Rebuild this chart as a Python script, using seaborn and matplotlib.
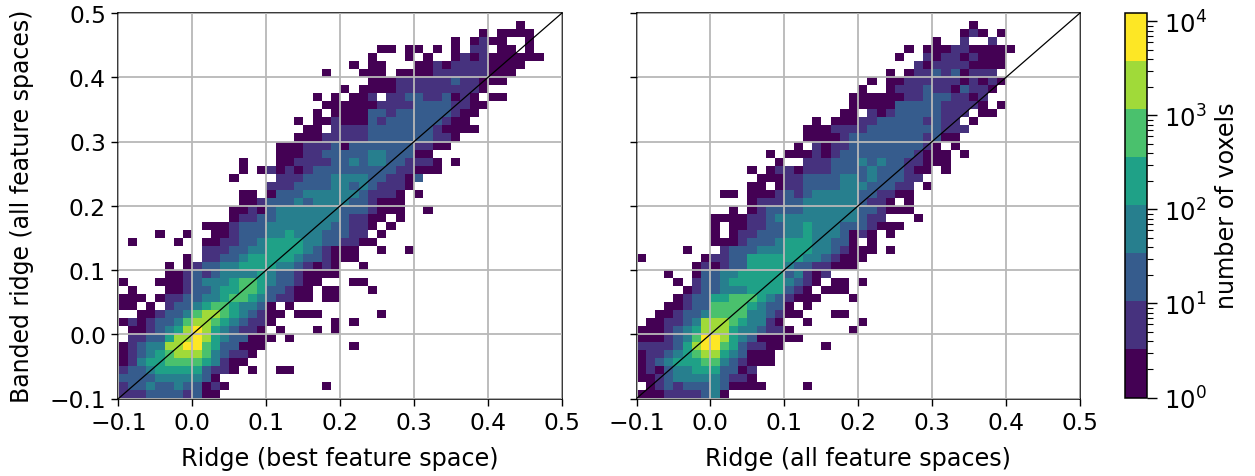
import numpy as np
import pandas as pd
import matplotlib
matplotlib.use("Agg")
import matplotlib.pyplot as plt
from matplotlib.colors import LogNorm
from matplotlib.cm import ScalarMappable
import seaborn as sns

# Colour band read per histogram bin, top row first, 8 bins per group. "." = empty
left_rows = [
    "........ ........ ........ ........ ........ ........",
    "........ ........ ........ ........ ........ ...1....",
    "........ ........ ........ ........ .......1 .1111...",
    "........ ........ ........ ........ ....1.12 11..1...",
    "........ ........ ........ ....11.1 1.1.1.22 .11.1...",
    "........ ........ ........ ...1...1 .1..1212 111111..",
    "........ ........ ........ .1.11... 11212222 1111....",
    "........ ........ ......1. ..111.11 11222222 111.....",
    "........ ........ ........ ...11122 22223221 11......",
    "........ ........ ........ 1.111122 22222221 ........",
    "........ ........ .....1.1 .112.223 3223121. 11......",
    "........ ........ ......11 11112222 33332211 ........",
    "........ ........ .....1.1 11133233 3333211. ........",
    "........ ........ ...1.112 11132333 333211.. ........",
    "........ ........ ....11.2 22233333 3321111. ........",
    "........ ........ ...11122 22233333 33221... ........",
    "........ ........ .1112223 13333333 2211.... ........",
    "........ ........ .1112233 33344333 11...... ........",
    "........ .....1.. .1122223 34344332 221.1... ........",
    "........ .....1.1 21212333 33333322 111..... ........",
    "........ ....1... .2223334 44433221 3....... ........",
    "........ ........ 22233334 43432221 ........ ........",
    "........ .....11. 13334444 4432221. 1....... ........",
    "........ .....112 33343444 4332111. ........ ........",
    "........ ....1121 34444444 3332111. .1...... ........",
    "........ ....1223 34444444 32211.1. ........ ........",
    "........ .1112333 44444443 3221.1.. ........ ........",
    "....1..1 ..112333 44544433 322.1... ........ ........",
    ".1....1. .1122334 55554433 2211.... ........ ........",
    "........ .2223344 55554321 11..1..1 ........ ........",
    ".......1 .2233455 55543321 11...... ........ ........",
    ".....1.1 23344555 54432121 ..1..... ........ ........",
    ".....112 32344445 43321111 ........ ........ ........",
    "1...1112 34445665 433211.. .11..... ........ ........",
    ".1...112 33455665 33211.11 ...1.... ........ ........",
    "111.1223 34456654 32211.11 ........ ........ ........",
    "11.1.233 45665443 1.1..... ........ ........ ........",
    "..112334 67765432 11.111.. ....1... ........ ........",
    "12123346 77654322 1......1 .1...... ........ ........",
    ".1123457 87543221 .1...1.1 ........ ........ ........",
    ".2233577 87543311 1.1..... ........ ........ ........",
    "12344778 86533111 ........ .1...... ........ ........",
    "12345677 7643221. ........ ........ ........ ........",
    "12455666 654211.. ........ ........ ........ ........",
    "23345555 53221.1. .11..... ........ ........ ........",
    "33334444 431..... ........ ........ ........ ........",
    "23343343 3121.... ......1. ........ ........ ........",
    "22233332 311..... ........ ........ ........ ........",
]

right_rows = [
    "........ ........ ........ ........ ........ ........",
    "........ ........ ........ ........ ....1... ........",
    "........ ........ ........ ........ ...121.1 ........",
    "........ ........ ........ ........ 1..2..2. ........",
    "........ ........ ........ .....1.1 11221111 1.......",
    "........ ........ ........ ....1..2 12212111 ........",
    "........ ........ ........ ......21 22221111 ........",
    "........ ........ ........ ...1.122 3231222. ........",
    "........ ........ ........ .1.11222 22212121 ........",
    "........ ........ ........ 1..12223 2213221. ........",
    "........ ........ .......1 11111223 332212.. ........",
    "........ ........ .......1 11113333 322221.1 ........",
    "........ ........ ......11 .2123333 3222.11. ........",
    "........ ........ ...1.111 22333332 322.1... ........",
    "........ ........ ..111222 23333333 3222.... ........",
    "........ ........ ..111123 33333332 311..... ........",
    "........ ........ .1.21223 33333332 1.1..... ........",
    "........ ......1. 11121233 33333321 11.1.... ........",
    "........ .......1 ..222333 43433221 11...... ........",
    "........ ....1.12 21222333 34333211 .1...... ........",
    "........ .....111 22333344 3433322. ........ ........",
    "........ ....11.1 22333344 433322.1 ........ ........",
    "........ .11.1112 32344444 332211.. ........ ........",
    "........ ....1222 33444444 3221.1.. ........ ........",
    "........ ..1.1233 33444444 332111.. ........ ........",
    "........ 11112234 44444444 322...1. ........ ........",
    "........ 1.112233 44544433 32111... ........ ........",
    "........ 1.122333 44544431 21.1.... ........ ........",
    "........ 11123334 55544331 .1...... ........ ........",
    ".....1.. .2333444 55544321 11.1.... ........ ........",
    "1......1 22335555 55443211 1....... ........ ........",
    "......12 12335555 43322111 ........ ........ ........",
    "...1..13 34455555 34212... ........ ........ ........",
    "....1.23 34555555 4321.11. 1....... ........ ........",
    ".....123 34445555 321.111. ........ ........ ........",
    "....1233 55666543 2111...1 ........ ........ ........",
    "...11233 66665433 1.1..... ........ ........ ........",
    "..112334 66664432 11...11. ........ ........ ........",
    ".1122347 77654421 ..1..... 1....... ........ ........",
    "11123457 77544322 1......1 ........ ........ ........",
    "11123468 87543111 11...... ........ ........ ........",
    "22223578 86532211 ....1... ........ ........ ........",
    "12234567 7543111. ........ ........ ........ ........",
    "12345556 6432111. ........ ........ ........ ........",
    "12134455 53312... ........ ........ ........ ........",
    "11234444 43221... ........ ........ ........ ........",
    ".1232333 431111.. ..1..... ........ ........ ........",
    "11122223 41...... ........ ........ ........ ........",
]

# Typical voxel count for colour bands 1 to 8
band_counts = [1.8, 6, 19, 62, 200, 650, 2100, 6800]

x_labels = ["Ridge (best feature space)", "Ridge (all feature spaces)"]
y_label = "Banded ridge (all feature spaces)"
colorbar_label = "number of voxels"
axis_ticks = [-0.1, 0.0, 0.1, 0.2, 0.3, 0.4, 0.5]
colorbar_ticks = [1, 10, 100, 1000, 10000]
count_max = 10 ** 4.09


def rows_to_table(rows):
    # One record per filled histogram bin
    edges = np.linspace(-0.1, 0.5, 49)
    centers = (edges[:-1] + edges[1:]) / 2
    records = []
    for r, row in enumerate(rows):
        row = row.replace(" ", "")
        for c, band in enumerate(row):
            if band != ".":
                records.append((centers[c], centers[47 - r], band_counts[int(band) - 1]))
    return pd.DataFrame(records, columns=["x", "y", "count"])


sns.set_theme(style="ticks")
plt.rcParams["font.family"] = ["DejaVu Sans"]
plt.rcParams["text.color"] = "black"
plt.rcParams["axes.labelcolor"] = "black"

cmap = plt.get_cmap("viridis", 8)
norm = LogNorm(vmin=1, vmax=count_max)

fig = plt.figure(figsize=(12.55, 4.77), dpi=100)
W, H = 1255, 477
ax_left = fig.add_axes([118.5 / W, 1 - 399.5 / H, 443.5 / W, 385.5 / H])
ax_right = fig.add_axes([636.5 / W, 1 - 399.5 / H, 443.5 / W, 385.5 / H])
ax_cbar = fig.add_axes([1124.5 / W, 1 - 398.5 / H, 22 / W, 384.5 / H])

for ax, rows, xlabel in zip([ax_left, ax_right], [left_rows, right_rows], x_labels):
    table = rows_to_table(rows)
    sns.histplot(data=table, x="x", y="y", weights="count", bins=48,
                 binrange=((-0.1, 0.5), (-0.1, 0.5)), cmap=cmap, ax=ax)
    # seaborn sets vmin/vmax itself, so the log scale goes on afterwards
    ax.collections[0].set_norm(norm)
    ax.set_xlim(-0.1, 0.5)
    ax.set_ylim(-0.1, 0.5)
    ax.set_xticks(axis_ticks)
    ax.set_yticks(axis_ticks)
    ax.set_axisbelow(False)
    ax.grid(True, color="#b8b8b8", linewidth=1.3)
    ax.plot([-0.1, 0.5], [-0.1, 0.5], color="black", linewidth=0.9, zorder=5)
    ax.set_xlabel(xlabel, fontsize=17.2, labelpad=9)
    ax.set_ylabel("")
    ax.tick_params(labelsize=16.8, length=5, width=1, pad=4, color="black", labelcolor="black")
    for side in ax.spines.values():
        side.set_visible(True)
        side.set_linewidth(1.1)
        side.set_color("black")

ax_left.set_ylabel(y_label, fontsize=17, labelpad=11)
ax_right.tick_params(labelleft=False)

cbar = fig.colorbar(ScalarMappable(norm=norm, cmap=cmap), cax=ax_cbar)
cbar.set_ticks(colorbar_ticks)
cbar.set_label(colorbar_label, fontsize=17.2, labelpad=6)
cbar.ax.tick_params(labelsize=17.5, length=7.5, width=1, pad=5, labelcolor="black", color="black")
cbar.ax.tick_params(which="minor", length=4, width=0.8, color="black")
cbar.outline.set_linewidth(1.1)
cbar.outline.set_edgecolor("black")

fig.savefig("out.png", dpi=100)
